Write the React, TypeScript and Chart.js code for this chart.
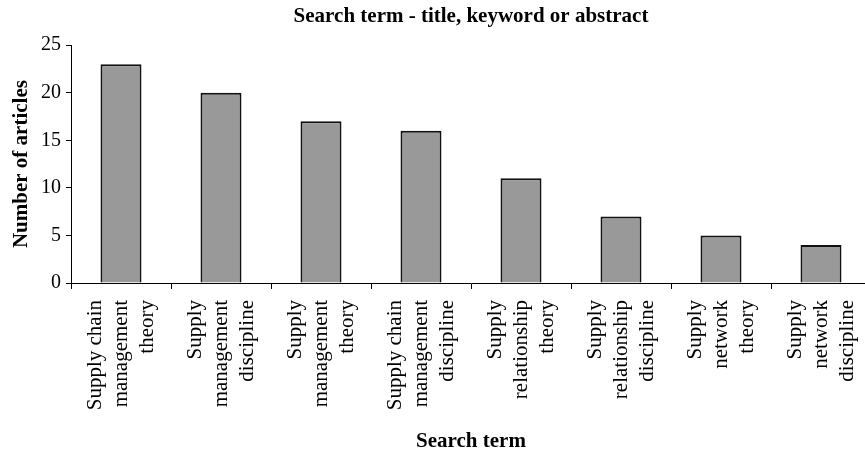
import { useEffect, useRef } from "react";
import { Chart, registerables } from "chart.js";

Chart.register(...registerables);

// Search terms, one entry per bar (each split over three lines)
const categories: string[][] = [
  ["Supply chain", "management", "theory"],
  ["Supply", "management", "discipline"],
  ["Supply", "management", "theory"],
  ["Supply chain", "management", "discipline"],
  ["Supply", "relationship", "theory"],
  ["Supply", "relationship", "discipline"],
  ["Supply", "network", "theory"],
  ["Supply", "network", "discipline"],
];

// Number of articles found for each search term
const articleCounts: number[] = [23, 20, 17, 16, 11, 7, 5, 4];

// Value axis range
const yMin = 0;
const yMax = 25;
const yStep = 5;

const chartTitle = "Search term - title, keyword or abstract";
const xTitle = "Search term";
const yTitle = "Number of articles";

const SERIF = "'Liberation Serif', 'Times New Roman', Times, serif";

export default function App() {
  const canvasRef = useRef<HTMLCanvasElement | null>(null);

  useEffect(() => {
    const canvas = canvasRef.current;
    if (!canvas) return;

    const labelLineHeight = 26;

    const chart = new Chart(canvas, {
      type: "bar",
      data: {
        labels: categories,
        datasets: [
          {
            data: articleCounts,
            backgroundColor: "#999999",
            borderColor: "#111111",
            borderWidth: 2,
            categoryPercentage: 1,
            barPercentage: 0.41,
          },
        ],
      },
      options: {
        responsive: false,
        animation: false,
        devicePixelRatio: 1,
        layout: { padding: { left: 0, right: 9, top: 0, bottom: 0 } },
        plugins: {
          legend: { display: false },
          tooltip: { enabled: false },
          title: {
            display: true,
            fullSize: false,
            text: chartTitle,
            color: "#000",
            font: { family: SERIF, size: 21, weight: "bold", lineHeight: 1.2 },
            padding: { top: 4, bottom: 16 },
          },
        },
        scales: {
          x: {
            grid: {
              offset: true,
              drawOnChartArea: false,
              drawTicks: true,
              tickLength: 6,
              color: "#000",
              lineWidth: 1,
            },
            border: { color: "#000", width: 1 },
            ticks: {
              autoSkip: false,
              minRotation: 90,
              maxRotation: 90,
              padding: 11,
              labelOffset: -labelLineHeight,
              color: "#000",
              font: { family: SERIF, size: 21, lineHeight: labelLineHeight / 21 },
            },
            title: {
              display: true,
              text: xTitle,
              color: "#000",
              font: { family: SERIF, size: 21, weight: "bold", lineHeight: 1.2 },
              padding: { top: 0, bottom: 1.5 },
            },
            afterFit: (scale: any) => {
              scale.height = 173;
              scale.paddingLeft = 0;
              scale.paddingRight = 0;
            },
          },
          y: {
            min: yMin,
            max: yMax,
            grid: {
              drawOnChartArea: false,
              drawTicks: true,
              tickLength: 5,
              color: "#000",
              lineWidth: 1,
            },
            border: { color: "#000", width: 1 },
            ticks: {
              stepSize: yStep,
              padding: 5,
              color: "#000",
              font: { family: SERIF, size: 20 },
            },
            title: {
              display: true,
              text: yTitle,
              color: "#000",
              font: { family: SERIF, size: 21, weight: "bold", lineHeight: 1.2 },
              padding: { top: 8.6, bottom: 0 },
            },
            afterFit: (scale: any) => {
              scale.width = 71;
              scale.paddingTop = 0;
              scale.paddingBottom = 0;
            },
          },
        },
      },
    } as any);

    return () => {
      chart.destroy();
    };
  }, []);

  return (
    <div
      style={{
        position: "fixed",
        left: 0,
        top: 0,
        width: 865,
        height: 450,
        overflow: "hidden",
        background: "#fff",
      }}
    >
      <canvas ref={canvasRef} width={880} height={456} style={{ display: "block" }} />
    </div>
  );
}
